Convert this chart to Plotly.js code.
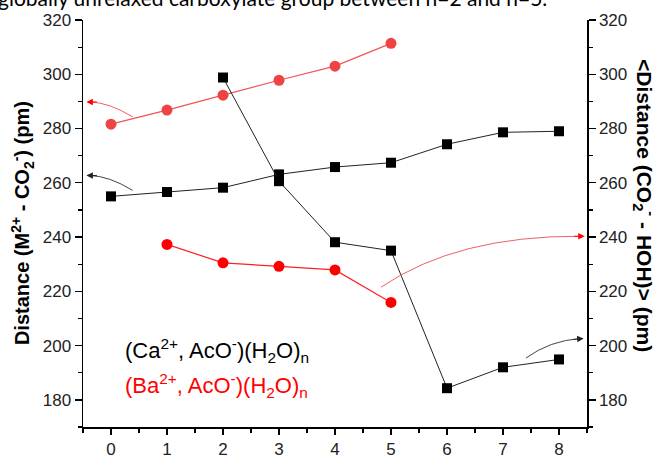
<!DOCTYPE html>
<html>
<head>
<meta charset="utf-8">
<script src="https://cdn.plot.ly/plotly-3.0.1.min.js"></script>
<style>html,body{margin:0;padding:0;background:#fff;}#chart{width:660px;height:464px;}</style>
</head>
<body>
<div id="chart"></div>
<script>
// ---- data ----
var nCa = [0, 1, 2, 3, 4, 5, 6, 7, 8];
var caMCO2 = [255.0, 256.6, 258.2, 263.1, 265.8, 267.4, 274.2, 278.6, 279.0];
var nCaW = [2, 3, 4, 5, 6, 7, 8];
var caCO2HOH = [298.8, 260.6, 238.1, 235.0, 184.3, 192.0, 194.9];
var nBa = [0, 1, 2, 3, 4, 5];
var baMCO2 = [281.6, 286.8, 292.3, 297.8, 303.0, 311.4];
var nBaW = [1, 2, 3, 4, 5];
var baCO2HOH = [237.3, 230.5, 229.2, 227.9, 215.9];
var xTicks = [0, 1, 2, 3, 4, 5, 6, 7, 8];
var yTicks = [180, 200, 220, 240, 260, 280, 300, 320];

var FONT = 'Arial, Liberation Sans, sans-serif';

var traces = [
  {x: nBa, y: baMCO2, yaxis: 'y', mode: 'lines+markers',
   line: {color: '#f05555', width: 1.2}, marker: {symbol: 'circle', size: 11, color: '#ee4444'}},
  {x: nCa, y: caMCO2, yaxis: 'y', mode: 'lines+markers',
   line: {color: '#222', width: 1}, marker: {symbol: 'square', size: 10, color: '#000'}},
  {x: nCaW, y: caCO2HOH, yaxis: 'y2', mode: 'lines+markers',
   line: {color: '#222', width: 1}, marker: {symbol: 'square', size: 10, color: '#000'}},
  {x: nBaW, y: baCO2HOH, yaxis: 'y2', mode: 'lines+markers',
   line: {color: '#ff2020', width: 1.2}, marker: {symbol: 'circle', size: 11, color: '#ff0000'}}
];

function axisBase() {
  return {
    showgrid: false, zeroline: false, showline: true, linecolor: '#000', linewidth: 1.5,
    ticks: 'outside', ticklen: 7, tickwidth: 1.3, tickcolor: '#000',
    tickfont: {family: FONT, size: 17, color: '#222'},
    minor: {ticks: 'outside', ticklen: 4, tickwidth: 1.2, tickcolor: '#000', showgrid: false}
  };
}

var xaxis = axisBase();
Object.assign(xaxis, {range: [-0.5, 8.5], tickvals: xTicks, ticklen: 6});
xaxis.minor.dtick = 0.5; xaxis.minor.tick0 = 0.5;

var yaxis = axisBase();
Object.assign(yaxis, {range: [170, 320], tickvals: yTicks});
yaxis.minor.dtick = 10; yaxis.minor.tick0 = 170;

var yaxis2 = axisBase();
Object.assign(yaxis2, {range: [170, 320], tickvals: yTicks, overlaying: 'y', side: 'right'});
yaxis2.minor.dtick = 10; yaxis2.minor.tick0 = 170;

var shapes = [
  {type: 'path', xref: 'x', yref: 'y', path: 'M 0.386 284.3 Q -0.03 289.6 -0.38 289.8', line: {color: '#f06060', width: 1}},
  {type: 'path', xref: 'x', yref: 'y', path: 'M 0.386 257.2 Q -0.03 262.5 -0.38 262.7', line: {color: '#444', width: 1}},
  {type: 'path', xref: 'x', yref: 'y', path: 'M 4.82 221.5 Q 6.18 240.6 8.40 240.3', line: {color: '#f06060', width: 1}},
  {type: 'path', xref: 'x', yref: 'y', path: 'M 7.41 195.4 Q 7.83 201.8 8.38 202.6', line: {color: '#444', width: 1}}
];

function arrowHead(x, y, ax, ay, color) {
  return {x: x, y: y, xref: 'x', yref: 'y', text: '', showarrow: true, ax: ax, ay: ay,
          arrowhead: 2, arrowsize: 1.3, arrowwidth: 1, arrowcolor: color};
}

var annotations = [
  arrowHead(-0.44, 289.8, 12, 0, '#ff0000'),
  arrowHead(-0.44, 262.7, 12, 0, '#222'),
  arrowHead(8.46, 240.3, -12, 0, '#ff0000'),
  arrowHead(8.44, 202.6, -12, 1, '#222'),
  {xref: 'paper', yref: 'paper', x: 0.079, y: 0.187, xanchor: 'left', yanchor: 'middle', showarrow: false,
   text: '(Ca<sup>2+</sup>, AcO<sup>-</sup>)(H<sub>2</sub>O)<sub>n</sub>', font: {family: FONT, size: 22, color: '#000'}},
  {xref: 'paper', yref: 'paper', x: 0.079, y: 0.101, xanchor: 'left', yanchor: 'middle', showarrow: false,
   text: '(Ba<sup>2+</sup>, AcO<sup>-</sup>)(H<sub>2</sub>O)<sub>n</sub>', font: {family: FONT, size: 22, color: '#ff0000'}},
  {xref: 'paper', yref: 'paper', x: -0.121, y: 0.501, xanchor: 'center', yanchor: 'middle', showarrow: false, textangle: -90,
   text: '<b>Distance (M<sup>2+</sup> - CO<sub>2</sub><sup>-</sup>) (pm)</b>', font: {family: FONT, size: 20, color: '#000'}},
  {xref: 'paper', yref: 'paper', x: 1.113, y: 0.543, xanchor: 'center', yanchor: 'middle', showarrow: false, textangle: 90,
   text: '<b>&lt;Distance (CO<sub>2</sub><sup>-</sup> - HOH)&gt; (pm)</b>', font: {family: FONT, size: 21, color: '#000'}},
  {xref: 'paper', yref: 'paper', x: 0.5, y: -0.072, xanchor: 'center', yanchor: 'top', showarrow: false,
   text: 'n', font: {family: FONT, size: 17, color: '#000'}},
  {xref: 'paper', yref: 'paper', x: -0.172, y: 1.056, xanchor: 'left', yanchor: 'middle', showarrow: false,
   text: 'globally unrelaxed carboxylate group between n=2 and n=5.', font: {family: 'Lato, sans-serif', size: 21, color: '#000'}}
];

var layout = {
  width: 660, height: 464,
  margin: {l: 83, r: 73, t: 20, b: 37},
  paper_bgcolor: '#fff', plot_bgcolor: '#fff',
  showlegend: false,
  xaxis: xaxis, yaxis: yaxis, yaxis2: yaxis2,
  shapes: shapes, annotations: annotations
};

Plotly.newPlot('chart', traces, layout, {staticPlot: true, displayModeBar: false});
</script>
</body>
</html>
